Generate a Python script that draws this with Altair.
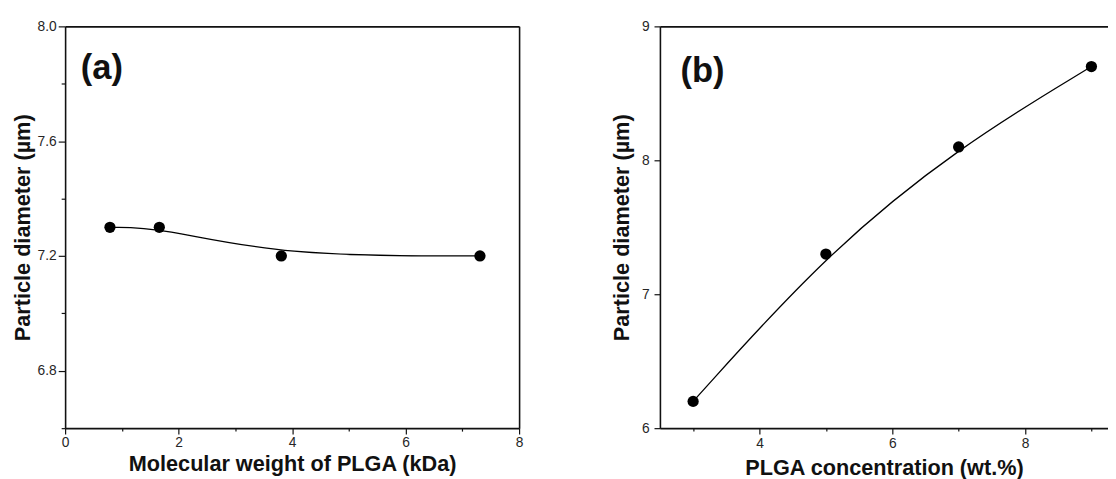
import altair as alt
import pandas as pd

# ---------------- data ----------------
mol_weight = [0.79, 1.66, 3.81, 7.31]          # kDa
diam_a = [7.30, 7.30, 7.20, 7.20]              # µm

plga_conc = [3, 5, 7, 9]                       # wt.%
diam_b = [6.20, 7.30, 8.10, 8.70]              # µm

panel_labels = ["(a)", "(b)"]

xa_ticks = [0, 1, 2, 3, 4, 5, 6, 7, 8]
ya_ticks = [6.6, 6.8, 7.0, 7.2, 7.4, 7.6, 7.8, 8.0]
xb_ticks = [3, 4, 5, 6, 7, 8, 9]
yb_ticks = [6, 6.5, 7, 7.5, 8, 8.5, 9]

FONT = "Liberation Sans"
INK = "#111111"

dfa = pd.DataFrame({"x": mol_weight, "y": diam_a})
dfb = pd.DataFrame({"x": plga_conc, "y": diam_b})


def main_axis(orient, values, major_test, title, fmt, label_pad, title_pad, major=6, minor=3):
    return alt.Axis(
        orient=orient,
        values=values,
        format=fmt,
        title=title,
        grid=False,
        labelExpr=f"({major_test}) ? datum.label : ''",
        tickSize={"condition": {"test": major_test, "value": major}, "value": minor},
        tickColor=INK,
        tickWidth=1.2,
        domainColor=INK,
        domainWidth=1.6,
        labelFont=FONT,
        labelFontSize=14,
        labelColor="#262626",
        labelPadding=label_pad,
        labelFlush=False,
        labelOverlap=False,
        titleFont=FONT,
        titleFontSize=22,
        titleFontWeight="bold",
        titleColor=INK,
        titlePadding=title_pad,
    )


def frame_axis(orient):
    return alt.Axis(
        orient=orient, labels=False, ticks=False, grid=False, title=None,
        domainColor=INK, domainWidth=1.6,
    )


def panel(df, xdom, ydom, xaxis, yaxis, label, lx, ly, width, right_frame=True):
    xs = alt.Scale(domain=xdom, nice=False, zero=False)
    ys = alt.Scale(domain=ydom, nice=False, zero=False)
    line = alt.Chart(df).mark_line(interpolate="basis", color="black", strokeWidth=1.3).encode(
        x=alt.X("x:Q", scale=xs, axis=frame_axis("top")),
        y=alt.Y("y:Q", scale=ys, axis=frame_axis("right") if right_frame else None),
    )
    pts = alt.Chart(df).mark_circle(size=130, color="black", opacity=1).encode(
        x=alt.X("x:Q", scale=xs, axis=xaxis),
        y=alt.Y("y:Q", scale=ys, axis=yaxis),
    )
    txt = alt.Chart(pd.DataFrame({"t": [label]})).mark_text(
        font=FONT, fontSize=35, fontWeight="bold", align="left", baseline="alphabetic", color=INK
    ).encode(text="t:N", x=alt.value(lx), y=alt.value(ly))
    return alt.layer(line, pts, txt).resolve_axis(x="independent", y="independent").properties(
        width=width, height=408
    )


a = panel(
    dfa, [0, 8], [6.6, 8.0],
    main_axis("bottom", xa_ticks, "datum.value % 2 === 0", "Molecular weight of PLGA (kDa)", "d", 2, 4),
    main_axis("left", ya_ticks, "round(datum.value * 10) % 4 === 0", "Particle diameter (µm)", ".1f", 2, 3, major=7, minor=4),
    panel_labels[0], 16, 53, 461,
)

b = panel(
    dfb, [2.5, 9.25], [6, 9],
    main_axis("bottom", xb_ticks, "datum.value % 2 === 0", "PLGA concentration (wt.%)", "d", 3, 7),
    main_axis("left", yb_ticks, "datum.value % 1 === 0", "Particle diameter (µm)", "d", 5, 8, major=6, minor=4),
    panel_labels[1], 21, 56, 455, right_frame=False,
)

chart = alt.hconcat(a, b, spacing=89).configure_view(stroke=None).properties(
    padding={"left": 3, "top": 8, "right": 0, "bottom": 0},
    background="white",
)

chart.save("out.html", embed_options={"renderer": "svg", "actions": False})
